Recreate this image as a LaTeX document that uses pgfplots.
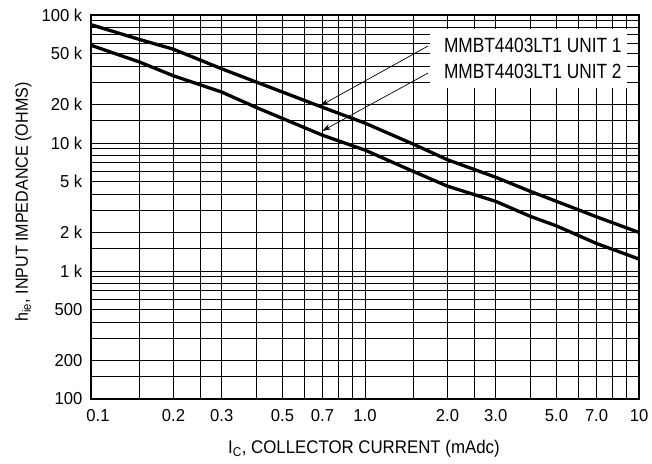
\documentclass[border=0pt]{standalone}
\usepackage{pgfplots}
\pgfplotsset{compat=1.18}
\usepackage{fontspec}
\setmainfont{Liberation Sans}
\newfontfamily\tickfont[FakeStretch=0.96]{Liberation Sans}
\newfontfamily\labfont[FakeStretch=0.92]{Liberation Sans}
\newfontfamily\legfont[FakeStretch=0.84]{Liberation Sans}
\usetikzlibrary{arrows.meta}
\begin{document}
\fontsize{16.5bp}{20bp}\selectfont
\begin{tikzpicture}
\useasboundingbox (-91bp,-65bp) rectangle (561bp,399bp);
\begin{axis}[
  at={(0,0)}, anchor=south west,
  scale only axis, width=548bp, height=384bp,
  xmode=log, ymode=log,
  xmin=0.1, xmax=10, ymin=100, ymax=100000,
  xtick={0.2,0.3,0.5,0.7,1,2,3,5,7,10},
  xticklabels={0.2,0.3,0.5,0.7,1.0,2.0,3.0,5.0,7.0,10},
  extra x ticks={0.1}, extra x tick labels={0.1},
  extra x tick style={xticklabel style={xshift=7bp}},
  minor xtick={0.15,0.25,0.4,0.6,0.8,0.9,1.5,2.5,4,6,8,9},
  ytick={100,200,500,1000,2000,5000,10000,20000,50000,100000},
  yticklabels={100,200,500,1 k,2 k,5 k,10 k,20 k,50 k,100 k},
  minor ytick={150,300,400,600,700,800,900,1500,3000,4000,6000,7000,8000,9000,15000,30000,40000,60000,70000,80000,90000},
  grid=both,
  major grid style={black, line width=0.8bp},
  minor grid style={black, line width=0.8bp},
  major tick length=0pt, minor tick length=0pt,
  axis line style={line width=1.8bp},
  tick label style={font=\tickfont\fontsize{17.3bp}{20bp}\selectfont},
  xticklabel style={yshift=-5bp},
  yticklabel style={xshift=-3bp},
  xlabel={I\textsubscript{C}, COLLECTOR CURRENT (mAdc)},
  ylabel={h\textsubscript{ie}, INPUT IMPEDANCE (OHMS)},
  every axis x label/.style={at={(axis description cs:0.498,-0.143)}, anchor=base, font=\labfont\fontsize{18.3bp}{20bp}\selectfont},
  every axis y label/.style={at={(axis description cs:-0.115,0.513)}, anchor=base, rotate=90, font=\labfont\fontsize{17.5bp}{20bp}\selectfont},
]
\addplot[black, line width=3.3bp, no marks] coordinates {
 (0.1,84000) (0.15,64500) (0.2,54000) (0.3,38000) (0.4,30000) (0.5,25000) (0.7,19000) (1.0,14300) (1.5,9800) (2,7400) (3,5400) (4,4200) (5,3500) (7,2650) (10,2000)
};
\addplot[black, line width=3.3bp, no marks] coordinates {
 (0.1,58000) (0.15,43000) (0.2,33500) (0.3,25000) (0.4,19000) (0.7,11500) (1,8800) (1.5,6000) (2,4600) (3,3500) (4,2680) (5,2250) (7,1640) (10,1240)
};
\fill[white] (axis cs:1.726,26900) rectangle (axis cs:9.04,77800);
\node[anchor=west, inner sep=0pt, font=\legfont\fontsize{20.6bp}{20bp}\selectfont] at (axis cs:1.94,58300) {MMBT4403LT1 UNIT 1};
\node[anchor=west, inner sep=0pt, font=\legfont\fontsize{20.6bp}{20bp}\selectfont] at (axis cs:1.94,36500) {MMBT4403LT1 UNIT 2};
\draw[line width=0.7bp, -{Stealth[length=9bp,width=5.5bp]}] (axis cs:1.70,57300) -- (axis cs:0.686,19500);
\draw[line width=0.7bp, -{Stealth[length=9bp,width=5.5bp]}] (axis cs:1.70,35200) -- (axis cs:0.697,12400);
\end{axis}
\end{tikzpicture}
\end{document}
